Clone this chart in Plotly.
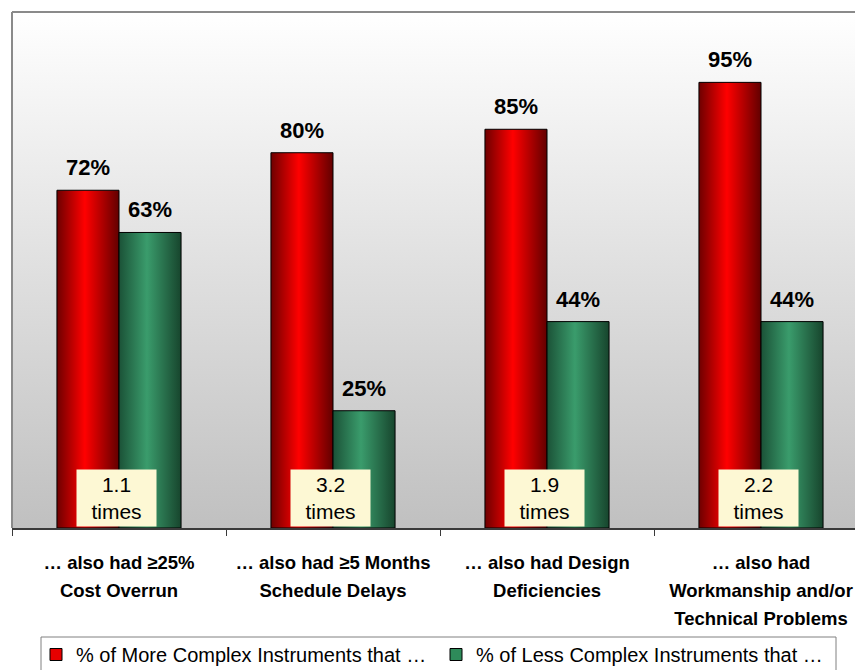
import plotly.graph_objects as go

# --- data -------------------------------------------------------------
categories = [
    "… also had ≥25%<br>Cost Overrun",
    "… also had ≥5 Months<br>Schedule Delays",
    "… also had Design<br>Deficiencies",
    "… also had<br>Workmanship and/or<br>Technical Problems",
]
more_complex = [72, 80, 85, 95]
less_complex = [63, 25, 44, 44]
series_names = [
    "% of More Complex Instruments that …",
    "% of Less Complex Instruments that …",
]

# --- style ------------------------------------------------------------
W, H = 855, 670
M_L, M_R, M_T, M_B = 12, 0, 12, 142
PLOT_W, PLOT_H = W - M_L - M_R, H - M_T - M_B
CAT_PX = 214                      # pixel width of one category slot
BAR_W = 0.29                      # bar width in category units
Y_MAX = 110
X_MIN = -0.5
X_MAX = X_MIN + PLOT_W / CAT_PX

SANS = "Liberation Sans, Arial, sans-serif"

red_scale = [[0, "#6e0000"], [0.45, "#ff0000"], [1, "#620000"]]
green_scale = [[0, "#1b5237"], [0.45, "#3a9c6c"], [1, "#17452d"]]


def px_x(px):
    """Horizontal pixel position -> paper fraction."""
    return (px - M_L) / PLOT_W


def px_y(px):
    """Vertical pixel position (from top) -> paper fraction."""
    return (H - M_B - px) / PLOT_H


x_pos = list(range(len(categories)))
# tick labels: glyphs a little smaller than the line pitch
tick_text = [f'<span style="font-size:18.5px">{c}</span>' for c in categories]

fig = go.Figure()

# plot-area background: vertical white-to-grey gradient
fig.add_trace(go.Scatter(
    x=[X_MIN, X_MAX, X_MAX, X_MIN, X_MIN],
    y=[0, 0, Y_MAX, Y_MAX, 0],
    mode="lines", line=dict(width=0),
    fill="toself",
    fillgradient=dict(type="vertical",
                      colorscale=[[0, "#c0c0c0"], [1, "#ffffff"]]),
    showlegend=False, hoverinfo="skip",
))

# the two bar series (solid base + legend entries)
series = [
    (more_complex, -BAR_W, "#e60000", red_scale, series_names[0]),
    (less_complex, 0.0, "#2e8b5a", green_scale, series_names[1]),
]
for values, offset, base_col, _, name in series:
    fig.add_trace(go.Bar(
        x=x_pos, y=values, width=BAR_W, offset=offset,
        marker=dict(color=base_col, line=dict(color="#000000", width=1)),
        name=name, hoverinfo="skip",
    ))

# horizontal cylinder-like shading laid over each bar
for values, offset, _, scale, _ in series:
    for xi, v in zip(x_pos, values):
        x0, x1 = xi + offset, xi + offset + BAR_W
        fig.add_trace(go.Scatter(
            x=[x0, x1, x1, x0, x0], y=[0, 0, v, v, 0],
            mode="lines", line=dict(color="#000000", width=1),
            fill="toself",
            fillgradient=dict(type="horizontal", colorscale=scale),
            showlegend=False, hoverinfo="skip",
        ))

annotations = []
# value labels above the bars
for values, offset, *_ in series:
    for xi, v in zip(x_pos, values):
        annotations.append(dict(
            x=xi + offset + BAR_W / 2, y=v, xref="x", yref="y",
            text=f"{v}%", showarrow=False, yanchor="bottom", yshift=8,
            font=dict(family=SANS, size=22, color="#000000", weight="bold"),
        ))

# ratio boxes at the foot of each pair
for xi, m, l in zip(x_pos, more_complex, less_complex):
    annotations.append(dict(
        x=xi, y=0, xref="x", yref="y",
        text=f"{m / l:.1f}<br>times", showarrow=False,
        xanchor="center", yanchor="bottom", xshift=-3, yshift=1,
        width=79, height=56, borderpad=0,
        bgcolor="#fdf8d4",
        font=dict(family=SANS, size=21, color="#000000"),
    ))

shapes = [
    # grey frame on top and left of the plot area
    dict(type="line", xref="paper", yref="paper", x0=0, x1=1, y0=1, y1=1,
         line=dict(color="#8a8a8a", width=2)),
    dict(type="line", xref="paper", yref="paper", x0=0, x1=0, y0=0, y1=1,
         line=dict(color="#8a8a8a", width=2)),
    # legend frame
    dict(type="rect", xref="paper", yref="paper",
         x0=px_x(41), x1=px_x(836), y0=px_y(690), y1=px_y(637),
         line=dict(color="#808080", width=1), fillcolor="rgba(0,0,0,0)"),
]

fig.update_layout(
    width=W, height=H,
    margin=dict(l=M_L, r=M_R, t=M_T, b=M_B, pad=0, autoexpand=False),
    paper_bgcolor="#ffffff", plot_bgcolor="#ffffff",
    barmode="overlay",
    showlegend=True,
    legend=dict(
        orientation="h",
        x=px_x(36), xanchor="left",
        y=px_y(635), yanchor="top",
        bgcolor="rgba(0,0,0,0)", borderwidth=0,
        entrywidth=355, entrywidthmode="pixels",
        font=dict(family=SANS, size=20, color="#000000"),
        traceorder="normal",
    ),
    annotations=annotations,
    shapes=shapes,
    xaxis=dict(
        range=[X_MIN, X_MAX], tickmode="array", tickvals=x_pos,
        ticktext=tick_text, ticks="",
        tickfont=dict(family=SANS, size=21.5, color="#000000", weight="bold"),
        ticklabelstandoff=13, ticklabeloverflow="allow",
        showline=True, linecolor="#3a3a3a", linewidth=2,
        showgrid=False, zeroline=False, fixedrange=True,
        minor=dict(tickmode="array",
                   tickvals=[xi - 0.5 for xi in x_pos],
                   ticks="outside", ticklen=6, tickwidth=1,
                   tickcolor="#3a3a3a", showgrid=False),
    ),
    yaxis=dict(range=[0, Y_MAX], visible=False, fixedrange=True),
)

fig.write_html("out.html")
